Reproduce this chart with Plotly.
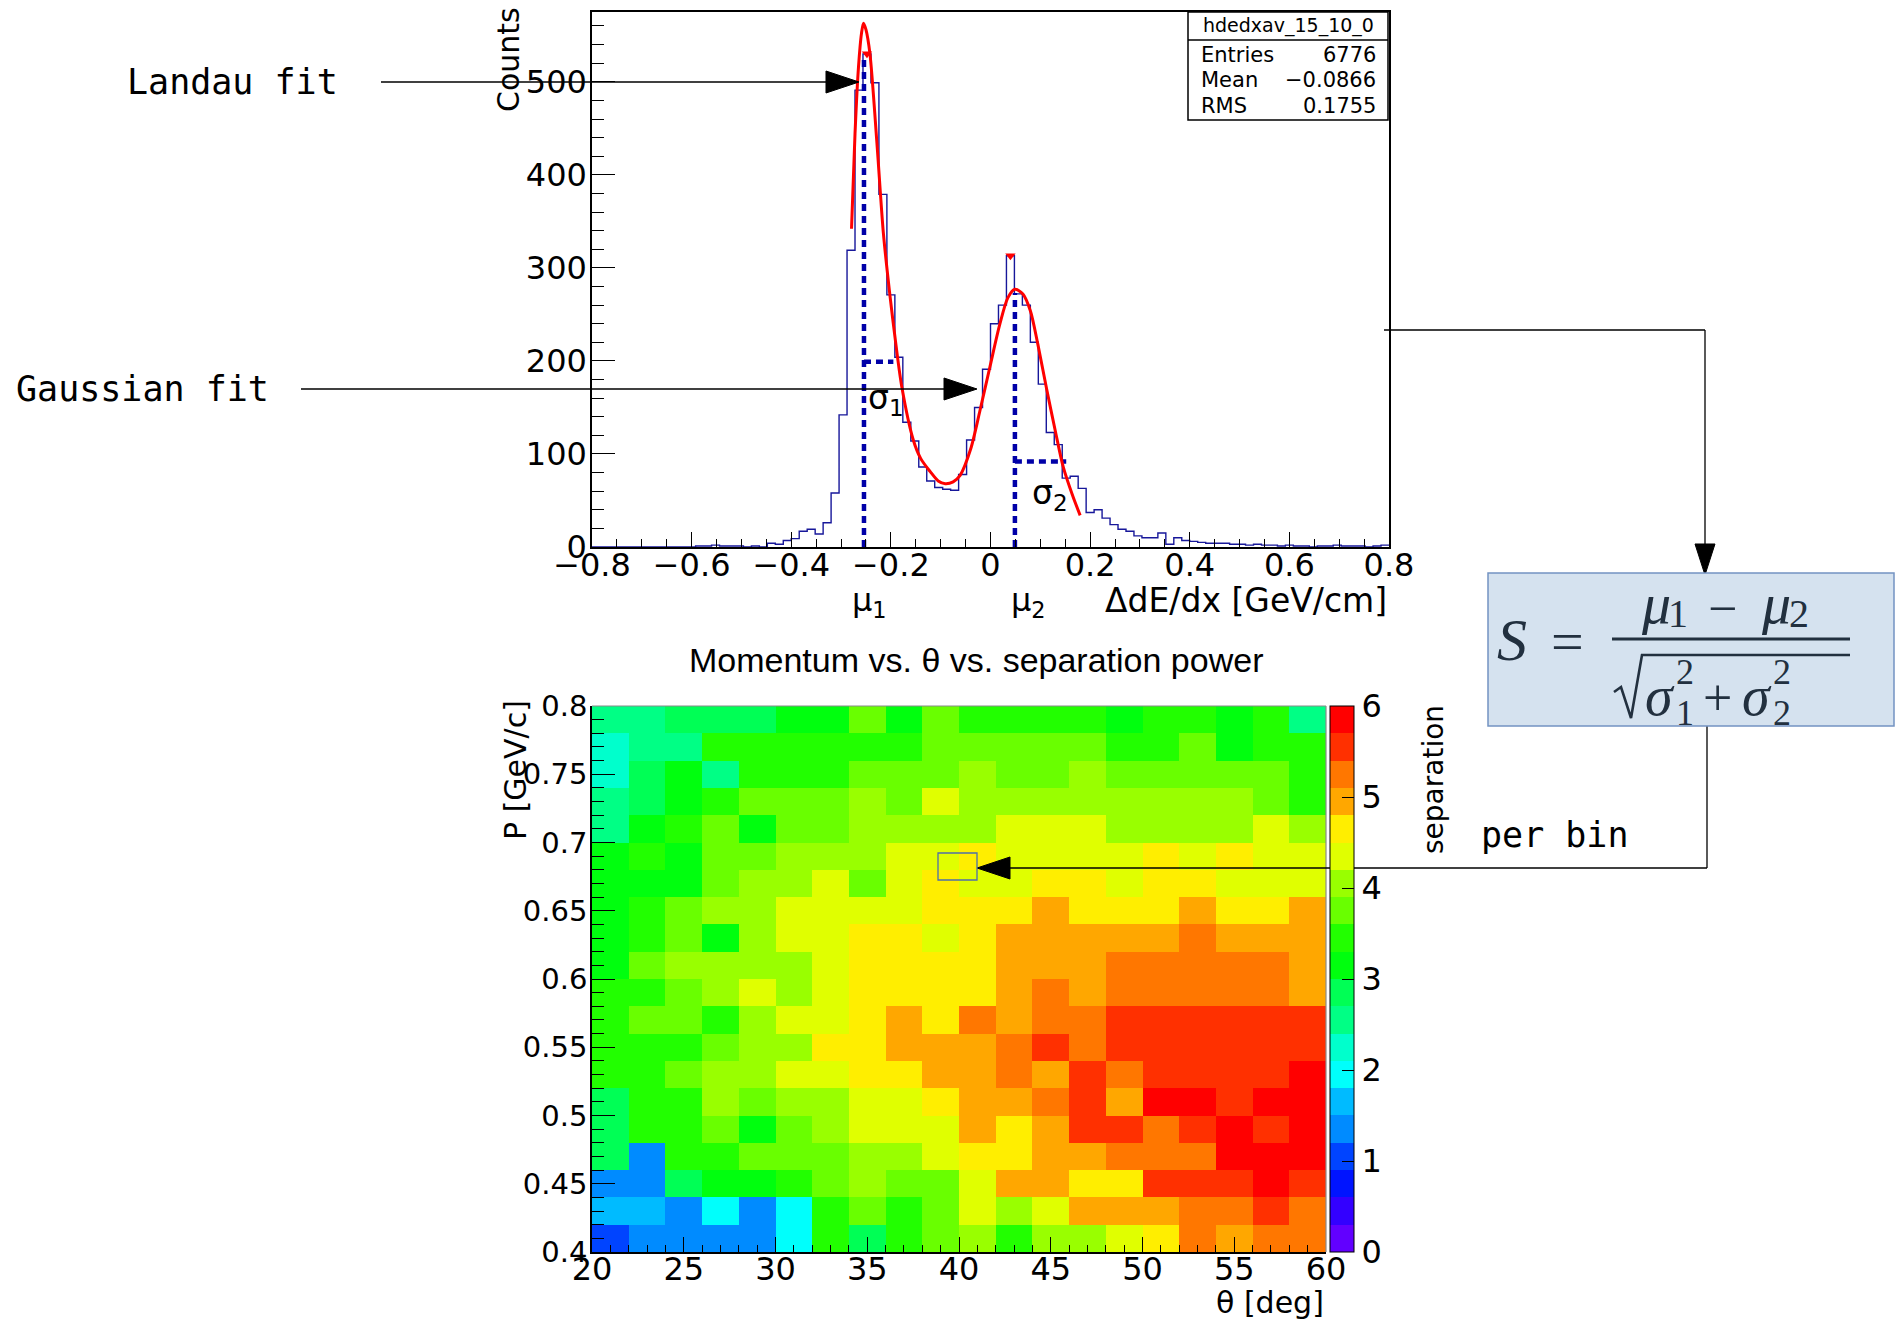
import plotly.graph_objects as go

W, H = 1898, 1320

# ---------------- dE/dx histogram: 100 bins between -0.8 and 0.8 ----------------
x_lo, x_hi, n_bins = -0.8, 0.8, 100
counts = [0, 0, 0, 0, 0, 0, 0, 0, 0, 0,
          0, 0, 0, 1, 1, 2, 1, 1, 1, 0,
          1, 0, 4, 3, 7, 9, 17, 19, 14, 26,
          58, 142, 319, 491, 530, 499, 379, 271, 204, 134,
          114, 86, 71, 64, 62, 61, 78, 115, 150, 191,
          240, 260, 313, 272, 260, 220, 175, 123, 110, 74,
          76, 63, 37, 40, 31, 24, 19, 17, 12, 10,
          10, 15, 3, 10, 7, 6, 5, 4, 4, 4,
          3, 3, 2, 3, 2, 2, 1, 2, 1, 1,
          0, 1, 1, 2, 1, 1, 1, 0, 1, 2]

# Landau + Gaussian fit curve (sampled points)
fit_x = [-0.279, -0.272, -0.265, -0.259, -0.255, -0.250, -0.242, -0.228, -0.215, -0.202,
         -0.190, -0.178, -0.155, -0.140, -0.121, -0.105, -0.091, -0.075, -0.061, -0.040,
         -0.021, -0.001, 0.019, 0.035, 0.049, 0.065, 0.080, 0.095, 0.113, 0.130,
         0.146, 0.165, 0.180]
fit_y = [342, 444, 516, 552, 563, 556, 530, 434, 337, 271,
         218, 172, 115, 95, 81, 71, 68, 70, 77, 105,
         147, 194, 240, 268, 277, 272, 254, 218, 169, 125,
         86, 55, 34]

# fitted peak positions and widths
mu1, mu1_top = -0.254, 525
sig1_end, sig1_level = -0.195, 199
mu2, mu2_top = 0.049, 273
sig2_end, sig2_level = 0.152, 92

# peak-finder markers
peak_x = [-0.248, 0.040]
peak_y = [530, 313]

# ---------------- separation power map ----------------
theta_centers = [21, 23, 25, 27, 29, 31, 33, 35, 37, 39,
                 41, 43, 45, 47, 49, 51, 53, 55, 57, 59]
p_centers = [0.41, 0.43, 0.45, 0.47, 0.49, 0.51, 0.53, 0.55, 0.57, 0.59,
             0.61, 0.63, 0.65, 0.67, 0.69, 0.71, 0.73, 0.75, 0.77, 0.79]

# rows ordered from P = 0.41 (bottom) to P = 0.79 (top)
separation = [
    [1.05, 1.35, 1.35, 1.35, 1.35, 1.95, 3.45, 2.85, 3.45, 3.75, 4.05, 3.45, 4.05, 4.05, 4.35, 4.65, 5.25, 4.95, 5.25, 5.25],
    [1.65, 1.65, 1.35, 1.95, 1.35, 1.95, 3.45, 3.75, 3.45, 3.75, 4.35, 4.05, 4.35, 4.95, 4.95, 4.95, 5.25, 5.25, 5.55, 5.25],
    [1.35, 1.35, 2.85, 3.15, 3.15, 3.45, 3.75, 4.05, 3.75, 3.75, 4.35, 4.95, 4.95, 4.65, 4.65, 5.55, 5.55, 5.55, 5.85, 5.55],
    [2.85, 1.35, 3.45, 3.45, 3.75, 3.75, 3.75, 4.05, 4.05, 4.35, 4.65, 4.65, 4.95, 4.95, 5.25, 5.25, 5.25, 5.85, 5.85, 5.85],
    [2.85, 3.45, 3.45, 3.75, 3.15, 3.75, 4.05, 4.35, 4.35, 4.35, 4.95, 4.65, 4.95, 5.55, 5.55, 5.25, 5.55, 5.85, 5.55, 5.85],
    [2.85, 3.45, 3.45, 4.05, 3.75, 4.05, 4.05, 4.35, 4.35, 4.65, 4.95, 4.95, 5.25, 5.55, 4.95, 5.85, 5.85, 5.55, 5.85, 5.85],
    [3.45, 3.45, 3.75, 4.05, 4.05, 4.35, 4.35, 4.65, 4.65, 4.95, 4.95, 5.25, 4.95, 5.55, 5.25, 5.55, 5.55, 5.55, 5.55, 5.85],
    [3.45, 3.45, 3.45, 3.75, 4.05, 4.05, 4.65, 4.65, 4.95, 4.95, 4.95, 5.25, 5.55, 5.25, 5.55, 5.55, 5.55, 5.55, 5.55, 5.55],
    [3.45, 3.75, 3.75, 3.45, 4.05, 4.35, 4.35, 4.65, 4.95, 4.65, 5.25, 4.95, 5.25, 5.25, 5.55, 5.55, 5.55, 5.55, 5.55, 5.55],
    [3.45, 3.45, 3.75, 4.05, 4.35, 4.05, 4.35, 4.65, 4.65, 4.65, 4.65, 4.95, 5.25, 4.95, 5.25, 5.25, 5.25, 5.25, 5.25, 4.95],
    [3.15, 3.75, 4.05, 4.05, 4.05, 4.05, 4.35, 4.65, 4.65, 4.65, 4.65, 4.95, 4.95, 4.95, 5.25, 5.25, 5.25, 5.25, 5.25, 4.95],
    [3.15, 3.45, 3.75, 3.15, 4.05, 4.35, 4.35, 4.65, 4.65, 4.35, 4.65, 4.95, 4.95, 4.95, 4.95, 4.95, 5.25, 4.95, 4.95, 4.95],
    [3.15, 3.45, 3.75, 4.05, 4.05, 4.35, 4.35, 4.35, 4.35, 4.65, 4.65, 4.65, 4.95, 4.65, 4.65, 4.65, 4.95, 4.65, 4.65, 4.95],
    [3.15, 3.15, 3.15, 3.75, 4.05, 4.05, 4.35, 3.75, 4.35, 4.65, 4.35, 4.35, 4.65, 4.65, 4.35, 4.65, 4.65, 4.35, 4.35, 4.35],
    [3.15, 3.45, 3.15, 3.75, 3.75, 4.05, 4.05, 4.05, 4.35, 4.35, 4.65, 4.35, 4.35, 4.35, 4.35, 4.65, 4.35, 4.65, 4.35, 4.35],
    [2.55, 3.15, 3.45, 3.75, 3.15, 3.75, 3.75, 4.05, 4.05, 4.05, 4.05, 4.35, 4.35, 4.35, 4.05, 4.05, 4.05, 4.05, 4.35, 4.05],
    [2.55, 2.85, 3.15, 3.45, 3.75, 3.75, 3.75, 4.05, 3.75, 4.35, 4.05, 4.05, 4.05, 4.05, 4.05, 4.05, 4.05, 4.05, 3.75, 3.45],
    [2.25, 2.85, 3.15, 2.55, 3.45, 3.45, 3.45, 3.75, 3.75, 3.75, 4.05, 3.75, 3.75, 4.05, 3.75, 3.75, 3.75, 3.75, 3.75, 3.45],
    [2.25, 2.55, 2.55, 3.45, 3.45, 3.45, 3.45, 3.45, 3.45, 3.75, 3.75, 3.75, 3.75, 3.75, 3.45, 3.45, 3.75, 3.15, 3.45, 3.45],
    [2.55, 2.55, 2.85, 2.85, 2.85, 3.15, 3.15, 3.75, 3.15, 3.75, 3.45, 3.45, 3.45, 3.45, 3.15, 3.45, 3.45, 3.15, 3.45, 2.55],
]

# 20-level rainbow palette, one colour per 0.3 step from 0 to 6
palette = ["#6200ff", "#3300ff", "#0014ff", "#0044ff", "#008bff",
           "#00bbff", "#00fffc", "#00ffcc", "#00ff85", "#00ff55",
           "#00ff0e", "#22ff00", "#69ff00", "#99ff00", "#e0ff00",
           "#ffee00", "#ffa700", "#ff7700", "#ff3000", "#ff0000"]
n_lev = len(palette)
colorscale = []
for k, c in enumerate(palette):
    colorscale.append([k / n_lev, c])
    colorscale.append([(k + 1) / n_lev, c])

SANS = "DejaVu Sans"
MONO = "DejaVu Sans Mono"
SERIF = "Liberation Serif"
TICK_SIZE = 32


def px(x):
    return x / W


def py(y):
    return 1 - y / H


fig = go.Figure()

# histogram outline
bin_w = (x_hi - x_lo) / n_bins
edges = [x_lo + i * bin_w for i in range(n_bins + 1)]
fig.add_trace(go.Scatter(x=edges[:-1] + [x_hi], y=counts + [counts[-1]], mode="lines",
                         line=dict(color="#17179a", width=1.4, shape="hv"),
                         xaxis="x", yaxis="y", hoverinfo="skip"))

# mean / width markers of both peaks
dash_style = dict(color="#0000a8", width=4.5, dash="7px,5px")
for xs, ys in [([mu1, mu1], [0, mu1_top]), ([mu1, sig1_end], [sig1_level, sig1_level]),
               ([mu2, mu2], [0, mu2_top]), ([mu2, sig2_end], [sig2_level, sig2_level])]:
    fig.add_trace(go.Scatter(x=xs, y=ys, mode="lines", line=dash_style,
                             xaxis="x", yaxis="y", hoverinfo="skip"))

# fit curve
fig.add_trace(go.Scatter(x=fit_x, y=fit_y, mode="lines",
                         line=dict(color="#ff0000", width=3, shape="spline", smoothing=0.8),
                         xaxis="x", yaxis="y", hoverinfo="skip"))

# peak markers
fig.add_trace(go.Scatter(x=peak_x, y=peak_y, mode="markers",
                         marker=dict(symbol="triangle-down", size=9, color="#ff0000"),
                         xaxis="x", yaxis="y", hoverinfo="skip"))

# separation map
fig.add_trace(go.Heatmap(
    x=theta_centers, y=p_centers, z=separation, zmin=0, zmax=6,
    colorscale=colorscale, xaxis="x2", yaxis="y2",
    colorbar=dict(x=px(1330), xanchor="left", y=py(979), yanchor="middle",
                  len=546, lenmode="pixels", thickness=24, thicknessmode="pixels",
                  xpad=0, ypad=0, outlinecolor="black", outlinewidth=1,
                  tickvals=[0, 1, 2, 3, 4, 5, 6], ticks="inside", ticklen=12,
                  tickcolor="black", tickwidth=1.3,
                  tickfont=dict(family=SANS, size=TICK_SIZE, color="black")),
))

axis_common = dict(showgrid=False, zeroline=False, showline=True, linecolor="black",
                   linewidth=1.5, ticks="inside", tickcolor="black", tickwidth=1.3)


def tfont(size=TICK_SIZE):
    return dict(family=SANS, size=size, color="black")


fig.update_layout(
    width=W, height=H,
    margin=dict(l=0, r=0, t=0, b=0, pad=0, autoexpand=False),
    paper_bgcolor="white", plot_bgcolor="white", showlegend=False,
    xaxis=dict(domain=[px(592), px(1389)], range=[x_lo, x_hi], anchor="y",
               dtick=0.2, tick0=0, ticklen=15, mirror=True,
               tickfont=tfont(), ticklabelstandoff=-11,
               minor=dict(dtick=0.05, tick0=0, ticks="inside", ticklen=8,
                          tickcolor="black", showgrid=False),
               **axis_common),
    yaxis=dict(domain=[py(547), py(12)], range=[0, 575], anchor="x",
               dtick=100, tick0=0, ticklen=23, mirror=True,
               tickfont=tfont(), ticklabelstandoff=-3,
               minor=dict(dtick=20, tick0=0, ticks="inside", ticklen=12,
                          tickcolor="black", showgrid=False),
               **axis_common),
    xaxis2=dict(domain=[px(592), px(1326)], range=[20, 60], anchor="y2",
                dtick=5, tick0=0, ticklen=15,
                tickfont=tfont(), ticklabelstandoff=-12,
                minor=dict(dtick=1, tick0=0, ticks="inside", ticklen=7,
                           tickcolor="black", showgrid=False),
                **axis_common),
    yaxis2=dict(domain=[py(1252), py(706)], range=[0.4, 0.8], anchor="x2",
                dtick=0.05, tick0=0, ticklen=23,
                tickfont=tfont(29), ticklabelstandoff=-3,
                minor=dict(dtick=0.01, tick0=0, ticks="inside", ticklen=12,
                           tickcolor="black", showgrid=False),
                **axis_common),
)

shapes = []


def seg(x0, y0, x1, y1, color="black", width=1.3):
    shapes.append(dict(type="line", xref="paper", yref="paper",
                       x0=px(x0), y0=py(y0), x1=px(x1), y1=py(y1),
                       line=dict(color=color, width=width), layer="above"))


def rect(x0, y0, x1, y1, line_color="black", fill="rgba(0,0,0,0)", width=1.3):
    shapes.append(dict(type="rect", xref="paper", yref="paper",
                       x0=px(x0), y0=py(y0), x1=px(x1), y1=py(y1),
                       line=dict(color=line_color, width=width), fillcolor=fill,
                       layer="above"))


def head(tx, ty, direction, length=33, half=11):
    if direction == "right":
        pts = [(tx, ty), (tx - length, ty - half), (tx - length, ty + half)]
    elif direction == "left":
        pts = [(tx, ty), (tx + length, ty - half), (tx + length, ty + half)]
    else:  # down
        pts = [(tx, ty), (tx - half, ty - length), (tx + half, ty - length)]
    path = "M" + " L".join(f"{px(a):.5f},{py(b):.5f}" for a, b in pts) + " Z"
    shapes.append(dict(type="path", xref="paper", yref="paper", path=path,
                       fillcolor="black", line=dict(color="black", width=1),
                       layer="above"))


# heatmap frame (top / right)
seg(592, 706, 1326, 706, color="#8a8a8a", width=1.2)
seg(1326, 706, 1326, 1252, color="#8a8a8a", width=1.2)

# statistics box
rect(1188, 12, 1388, 120, fill="white", width=1.5)
seg(1188, 40, 1388, 40, width=1.3)

# pointer arrows
seg(381, 82, 830, 82)
head(859, 82, "right")
seg(301, 389, 946, 389)
head(977, 389, "right")
seg(1384, 330, 1705, 330)
seg(1705, 330, 1705, 545)
head(1705, 575, "down", length=31, half=10)
seg(1707, 726, 1707, 868)
seg(1707, 868, 1008, 868)
head(977, 868, "left")

# highlighted bin
rect(938, 853, 977, 880, line_color="#4f6fa8", width=1.3)

# formula panel
rect(1488, 573, 1894, 726, line_color="#7393c2", fill="#d5e2ef", width=1.5)
INK = "#22303f"
seg(1612, 639, 1850, 639, color=INK, width=3)
shapes.append(dict(type="path", xref="paper", yref="paper",
                   path=(f"M{px(1614):.5f},{py(692):.5f} L{px(1621):.5f},{py(687):.5f} "
                         f"L{px(1631):.5f},{py(718):.5f} L{px(1642):.5f},{py(655):.5f} "
                         f"L{px(1850):.5f},{py(655):.5f}"),
                   line=dict(color=INK, width=2.6), layer="above"))

fig.update_layout(shapes=shapes)

annotations = []


def text(t, x, y, size, family=SANS, xanchor="center", yanchor="middle", angle=0,
         color="black"):
    annotations.append(dict(text=t, x=px(x), y=py(y), xref="paper", yref="paper",
                            xanchor=xanchor, yanchor=yanchor, textangle=angle,
                            showarrow=False, font=dict(family=family, size=size, color=color)))


text("Landau fit", 125, 82, 35, family=MONO, xanchor="left")
text("Gaussian fit", 14, 389, 35, family=MONO, xanchor="left")
text("per bin", 1479, 835, 35, family=MONO, xanchor="left")

text("Counts", 509, 60, 30, angle=-90)
text("ΔdE/dx [GeV/cm]", 1389, 600, 33, xanchor="right")
text("μ<sub>1</sub>", 869, 602, 32)
text("μ<sub>2</sub>", 1028, 602, 32)
text("σ<sub>1</sub>", 866, 400, 33, xanchor="left")
text("σ<sub>2</sub>", 1030, 494, 33, xanchor="left")

text("hdedxav_15_10_0", 1288, 26, 19)
text("Entries", 1199, 55, 21, xanchor="left")
text("6776", 1378, 55, 21, xanchor="right")
text("Mean", 1199, 80, 21, xanchor="left")
text("−0.0866", 1378, 80, 21, xanchor="right")
text("RMS", 1199, 106, 21, xanchor="left")
text("0.1755", 1378, 106, 21, xanchor="right")

text("Momentum vs. θ vs. separation power", 976, 660, 34, family="Liberation Sans")
text("P [GeV/c]", 515, 770, 30, angle=-90)
text("θ [deg]", 1326, 1302, 30, xanchor="right")
text("separation", 1433, 780, 28, angle=-90)

# S = (mu1 - mu2) / sqrt(sigma1^2 + sigma2^2)
text("<i>S</i>", 1512, 640, 60, family=SERIF, color=INK)
text("=", 1567, 641, 58, family=SERIF, color=INK)
text("<i>μ</i>", 1656, 604, 58, family=SERIF, color=INK)
text("1", 1678, 614, 40, family=SERIF, color=INK)
text("−", 1722, 608, 52, family=SERIF, color=INK)
text("<i>μ</i>", 1776, 604, 58, family=SERIF, color=INK)
text("2", 1799, 614, 40, family=SERIF, color=INK)
text("<i>σ</i>", 1660, 696, 56, family=SERIF, color=INK)
text("2", 1685, 672, 36, family=SERIF, color=INK)
text("1", 1685, 713, 36, family=SERIF, color=INK)
text("+", 1717, 697, 52, family=SERIF, color=INK)
text("<i>σ</i>", 1757, 696, 56, family=SERIF, color=INK)
text("2", 1782, 672, 36, family=SERIF, color=INK)
text("2", 1782, 713, 36, family=SERIF, color=INK)

fig.update_layout(annotations=annotations)

fig.write_html("out.html")
